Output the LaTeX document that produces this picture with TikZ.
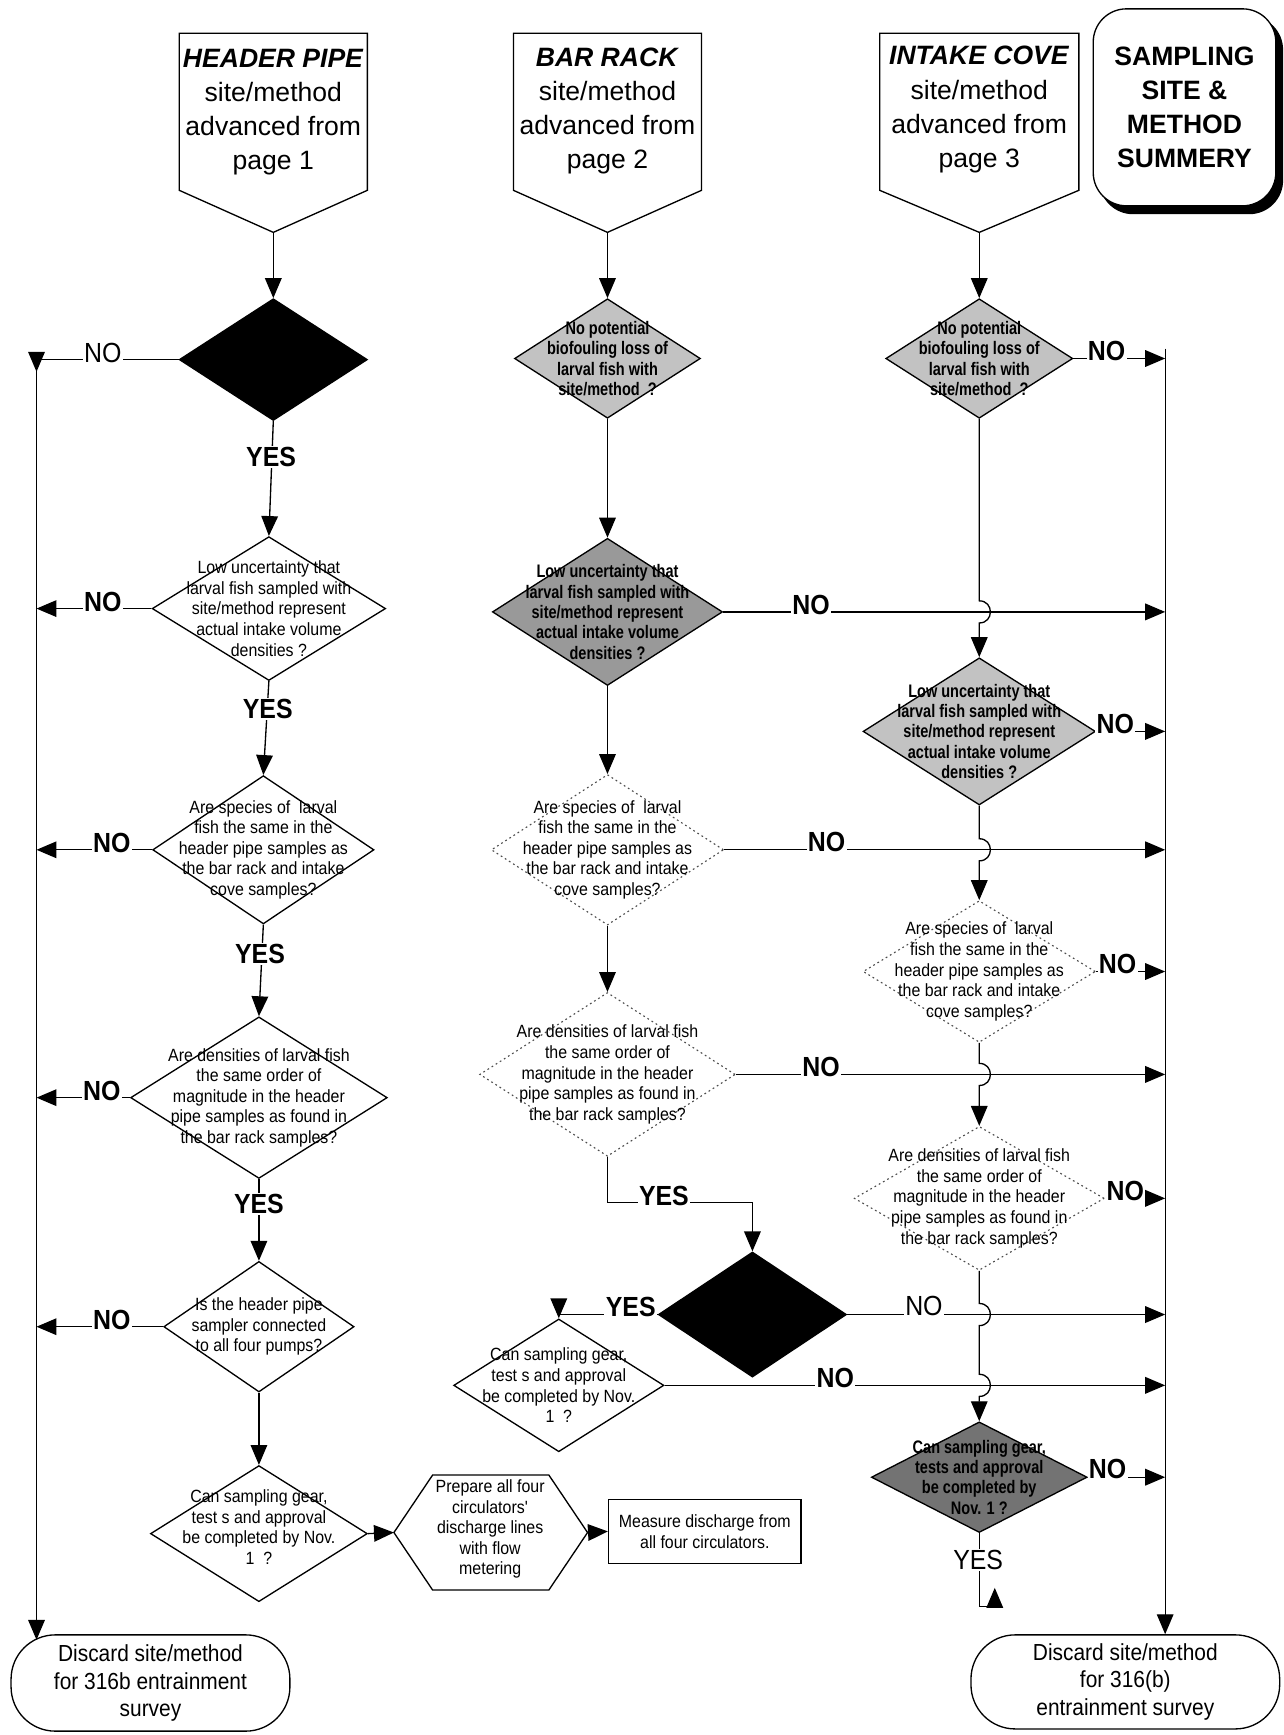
\documentclass[tikz,border=0pt]{standalone}
\usepackage{fontspec}
\setmainfont{Liberation Sans}
\newfontfamily\condsf[FakeStretch=0.9]{Liberation Sans}
\newfontfamily\tightsf[FakeStretch=0.8]{Liberation Sans}
\usetikzlibrary{shapes.geometric,arrows.meta,calc}

\tikzset{
  conn/.style={line width=0.6pt},
  arr/.style={conn,-{Triangle[length=9pt,width=7.5pt]}},
  dsize/.style 2 args={minimum width=#1*0.5pt, minimum height=#2*0.5pt},
  dia/.style={diamond, draw, line width=0.6pt, inner sep=0pt, fill=white},
  blackdia/.style={dia, fill=black},
  lightdia/.style={dia, fill=black!24},
  middia/.style={dia, fill=black!40},
  darkdia/.style={dia, fill=black!55},
  dotdia/.style={diamond, inner sep=0pt, draw=black!70, line width=0.5pt, dash pattern=on 0.8pt off 1.4pt},
  qtext/.style={align=center, inner sep=0pt, font=\condsf\fontsize{8}{9.3}\selectfont},
  qbold/.style={align=center, inner sep=0pt, font=\tightsf\bfseries\fontsize{8.2}{9.2}\selectfont},
  yn/.style={fill=white, inner sep=0.6pt, font=\condsf\bfseries\fontsize{12.5}{14}\selectfont},
  ynlight/.style={fill=white, inner sep=0.6pt, font=\condsf\fontsize{12.5}{14}\selectfont},
  hdr/.style={align=center, inner sep=0pt, font=\fontsize{12}{15.4}\selectfont},
  endbox/.style={draw, line width=0.6pt, rounded corners=20pt, align=center, inner sep=0pt, font=\condsf\fontsize{10.5}{12.5}\selectfont},
  sumbox/.style={draw, line width=0.6pt, rounded corners=15pt, minimum width=82.5pt, minimum height=89pt, inner sep=0pt, align=center, font=\bfseries\fontsize{12}{15.3}\selectfont},
  hopover/.style={insert path={-- ([yshift=5pt]#1) .. controls ([xshift=6.7pt,yshift=5pt]#1) and ([xshift=6.7pt,yshift=-5pt]#1) .. ([yshift=-5pt]#1)}},
}

\begin{document}
\begin{tikzpicture}[x=0.5pt, y=-0.5pt]
\fill[white] (0,0) rectangle (1160,1568);
\useasboundingbox (0,0) rectangle (1160,1568);

% ---------- collecting lines ----------
\coordinate (ll) at (33,325);
\coordinate (lnoA) at (33,336);
\coordinate (lend) at (33,1482);
\coordinate (rl) at (1053,315);

% ---------- column heads ----------
\node[hdr] (hpt) at (247,101) {\textbf{\textit{HEADER PIPE}}\\site/method\\advanced from\\page 1};
\coordinate (hpTip) at (247,210);
\draw[conn] (162,30) -- (332,30) -- (332,172) -- (hpTip) -- (162,172) -- cycle;

\node[hdr] (brt) at (549,100) {\textbf{\textit{BAR RACK}}\\site/method\\advanced from\\page 2};
\coordinate (brTip) at (549,210);
\draw[conn] (464,30) -- (634,30) -- (634,172) -- (brTip) -- (464,172) -- cycle;

\node[hdr] (ict) at (885,99) {\textbf{\textit{INTAKE COVE}}\\site/method\\advanced from\\page 3};
\coordinate (icTip) at (885,210);
\draw[conn] (795,30) -- (975,30) -- (975,172) -- (icTip) -- (795,172) -- cycle;

\node[sumbox, fill=black] (sumshadow) at (1076.5,104) {};
\node[sumbox, fill=white] (summary) at (1070.5,97) {SAMPLING\\SITE \&\\METHOD\\SUMMERY};

% ---------- header pipe column ----------
\node[blackdia, dsize={170}{110}] (D1) at (247,325) {};
\node[dia, dsize={211}{130}] (D2) at (243,550) {};
\node[qtext] (D2t) at (D2) {Low uncertainty that\\larval fish sampled with\\site/method represent\\actual intake volume\\densities ?};
\node[dia, dsize={200}{134}] (D3) at (238,768) {};
\node[qtext] (D3t) at (D3) {Are species of~~larval\\fish the same in the\\header pipe samples as\\the bar rack and intake\\cove samples?};
\node[dia, dsize={232}{146}] (D4) at (234,992) {};
\node[qtext] (D4t) at (D4) {Are densities of larval fish\\the same order of\\magnitude in the header\\pipe samples as found in\\the bar rack samples?};
\node[dia, dsize={172}{118}] (D5) at (234,1199) {};
\node[qtext] (D5t) at (D5) {Is the header pipe\\sampler connected\\to all four pumps?};
\node[dia, dsize={196}{123}] (D6) at (234,1386) {};
\node[qtext] (D6t) at ([yshift=3pt]D6) {Can sampling gear,\\test s and approval\\be completed by Nov.\\1~~?};

\node[qtext] (hex) at (443,1382) {Prepare all four\\circulators\textquotesingle\\discharge lines\\with flow\\metering};
\coordinate (hexL) at (356,1385);
\coordinate (hexR) at (531,1385);
\draw[conn] (hexL) -- (391,1333) -- (496,1333) -- (hexR) -- (496,1437) -- (391,1437) -- cycle;

\node[draw, conn, qtext, minimum width=87pt, minimum height=29pt] (meas) at (637,1384) {Measure discharge from\\all four circulators.};

\node[endbox, minimum width=126pt, minimum height=43.5pt] (disL) at (136,1521) {Discard site/method\\for 316b entrainment\\survey};

% ---------- bar rack column ----------
\node[lightdia, dsize={168}{108}] (M1) at (549,324) {};
\node[qbold] (M1t) at (M1) {No potential\\biofouling loss of\\larval fish with\\site/method~~?};
\node[middia, dsize={208}{133}] (M2) at (549,553) {};
\node[qbold] (M2t) at (M2) {Low uncertainty that\\larval fish sampled with\\site/method represent\\actual intake volume\\densities ?};
\node[dotdia, dsize={210}{136}] (M3) at (549,768) {};
\node[qtext] (M3t) at (M3) {Are species of~~larval\\fish the same in the\\header pipe samples as\\the bar rack and intake\\cove samples?};
\node[dotdia, dsize={231}{148}] (M4) at (549,971) {};
\node[qtext] (M4t) at (M4) {Are densities of larval fish\\the same order of\\magnitude in the header\\pipe samples as found in\\the bar rack samples?};
\coordinate (m4bend) at (549,1087);
\node[blackdia, dsize={170}{113}] (M5) at (680,1188) {};
\node[dia, dsize={190}{120}] (M6) at (505,1252) {};
\node[qtext] (M6t) at (M6) {Can sampling gear,\\test s and approval\\be completed by Nov.\\1~~?};

% ---------- intake cove column ----------
\node[lightdia, dsize={169}{108}] (R1) at (885,324) {};
\node[qbold] (R1t) at (R1) {No potential\\biofouling loss of\\larval fish with\\site/method~~?};
\node[lightdia, dsize={210}{133}] (R2) at (885,661) {};
\node[qbold] (R2t) at (R2) {Low uncertainty that\\larval fish sampled with\\site/method represent\\actual intake volume\\densities ?};
\node[dotdia, dsize={210}{128}] (R3) at (885,878) {};
\node[qtext] (R3t) at (R3) {Are species of~~larval\\fish the same in the\\header pipe samples as\\the bar rack and intake\\cove samples?};
\node[dotdia, dsize={226}{130}] (R4) at (885,1083) {};
\node[qtext] (R4t) at (R4) {Are densities of larval fish\\the same order of\\magnitude in the header\\pipe samples as found in\\the bar rack samples?};
\node[darkdia, dsize={195}{100}] (R5) at (885,1335) {};
\node[qbold] (R5t) at (R5) {Can sampling gear,\\tests and approval\\be completed by\\Nov. 1 ?};
\coordinate (ry1) at (885,1452);
\coordinate (ry2) at (899,1435);

\node[endbox, minimum width=139.5pt, minimum height=42.5pt] (disR) at (1017,1520) {Discard site/method\\for 316(b)\\entrainment survey};

% crossing points where the right column hops over
\coordinate (h1) at (M2.east -| R1.south);
\coordinate (h2) at (M3.east -| R1.south);
\coordinate (h3) at (M4.east -| R1.south);
\coordinate (h4) at (M5.east -| R1.south);
\coordinate (h5) at (M6.east -| R1.south);

% ---------- connectors: header pipe ----------
\draw[arr] (hpTip) -- (D1.north);
\draw[arr] (D1.west) -| (lnoA);
\draw[arr] (ll) -- (lend);
\draw[arr] (D1.south) -- (D2.north);
\draw[arr] (D2.west) -- (D2.west -| ll);
\draw[arr] (D2.south) -- (D3.north);
\draw[arr] (D3.west) -- (D3.west -| ll);
\draw[arr] (D3.south) -- (D4.north);
\draw[arr] (D4.west) -- (D4.west -| ll);
\draw[arr] (D4.south) -- (D5.north);
\draw[arr] (D5.west) -- (D5.west -| ll);
\draw[arr] (D5.south) -- (D6.north);
\draw[arr] (D6.east) -- (hexL);
\draw[arr] (hexR) -- (meas.west);

% ---------- connectors: bar rack ----------
\draw[arr] (brTip) -- (M1.north);
\draw[arr] (M1.south) -- (M2.north);
\draw[arr] (M2.east) -- (M2.east -| rl);
\draw[arr] (M2.south) -- (M3.north);
\draw[arr] (M3.east) -- (M3.east -| rl);
\draw[arr] (M3.south) -- (M4.north);
\draw[arr] (M4.east) -- (M4.east -| rl);
\draw[arr] (M4.south) -- (m4bend) -| (M5.north);
\draw[arr] (M5.west) -| (M6.north);
\draw[arr] (M5.east) -- (M5.east -| rl);
\draw[arr] (M6.east) -- (M6.east -| rl);

% ---------- connectors: intake cove ----------
\draw[arr] (icTip) -- (R1.north);
\draw[arr] (R1.east) -- (R1.east -| rl);
\draw[arr] (rl) -- (rl |- disR.north);
\draw[arr] (R1.south) [hopover=h1] -- (R2.north);
\draw[arr] (R2.east) -- (R2.east -| rl);
\draw[arr] (R2.south) [hopover=h2] -- (R3.north);
\draw[arr] (R3.east) -- (R3.east -| rl);
\draw[arr] (R3.south) [hopover=h3] -- (R4.north);
\draw[arr] (R4.east) -- (R4.east -| rl);
\draw[arr] (R4.south) [hopover=h4] [hopover=h5] -- (R5.north);
\draw[arr] (R5.east) -- (R5.east -| rl);
\draw[arr] (R5.south) -- (ry1) -| (ry2);

% ---------- YES / NO labels ----------
\node[ynlight] (noD1) at (93,319) {NO};
\node[yn] (yesD1) at (245,413) {YES};
\node[yn] (noD2) at (93,544) {NO};
\node[yn] (yesD2) at (242,641) {YES};
\node[yn] (noD3) at (101,762) {NO};
\node[yn] (yesD3) at (235,862) {YES};
\node[yn] (noD4) at (92,986) {NO};
\node[yn] (yesD4) at (234,1088) {YES};
\node[yn] (noD5) at (101,1193) {NO};

\node[yn] (noM2) at (733,547) {NO};
\node[yn] (noM3) at (747,761) {NO};
\node[yn] (noM4) at (742,964) {NO};
\node[yn] (yesM4) at (600,1081) {YES};
\node[yn] (yesM5) at (570,1181) {YES};
\node[ynlight] (noM5) at (835,1180) {NO};
\node[yn] (noM6) at (755,1245) {NO};

\node[yn] (noR1) at (1000,317) {NO};
\node[yn] (noR2) at (1008,654) {NO};
\node[yn] (noR3) at (1010,871) {NO};
\node[yn] (noR4) at (1017,1076) {NO};
\node[yn] (noR5) at (1001,1328) {NO};
\node[ynlight] (yesR5) at (884,1410) {YES};
\end{tikzpicture}
\end{document}
